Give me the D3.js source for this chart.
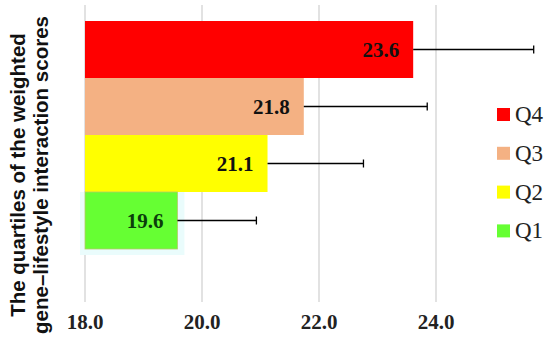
<!DOCTYPE html>
<html>
<head>
<meta charset="utf-8">
<script src="https://cdn.jsdelivr.net/npm/d3@7"></script>
<style>
  body { margin: 0; background: white; }
</style>
</head>
<body>
<div class="chart"></div>
<script>
let width = 550
let height = 337

// data
let groups = ['Q4', 'Q3', 'Q2', 'Q1']
let means = [23.6, 21.8, 21.1, 19.6]
let barEnds = [23.61, 21.74, 21.12, 19.58]
let errorTops = [25.67, 23.85, 22.76, 20.93]
let ticks = [18.0, 20.0, 22.0, 24.0]
let colors = ['#ff0000', '#f4b183', '#ffff00', '#66ff33']

let x = d3.scaleLinear().domain([18, 24]).range([85, 436])
let y = d3.scaleBand().domain(groups).range([21, 249]).padding(0)

let svg = d3.select('div.chart')
    .append('svg')
    .attr('width', width)
    .attr('height', height)

// vertical gridlines
svg.selectAll('line.grid')
    .data(ticks)
    .enter()
    .append('line')
    .attr('class', 'grid')
    .attr('x1', d => x(d))
    .attr('x2', d => x(d))
    .attr('y1', 5)
    .attr('y2', 302)
    .style('stroke', '#d9d9d9')
    .style('stroke-width', 1.5)

// tick labels
svg.selectAll('text.tick')
    .data(ticks)
    .enter()
    .append('text')
    .attr('class', 'tick')
    .attr('x', d => x(d))
    .attr('y', 329)
    .attr('text-anchor', 'middle')
    .style('font-family', 'Liberation Serif, serif')
    .style('font-weight', 'bold')
    .style('font-size', '21px')
    .style('fill', '#222')
    .text(d => d.toFixed(1))

// faint cyan halo behind Q1 bar
svg.append('rect')
    .attr('x', x(18) - 5)
    .attr('y', y('Q1'))
    .attr('width', x(barEnds[3]) - x(18) + 12)
    .attr('height', y.bandwidth() + 6)
    .style('fill', '#eafcfc')

// bars
svg.selectAll('rect.bar')
    .data(groups)
    .enter()
    .append('rect')
    .attr('class', 'bar')
    .attr('x', x(18))
    .attr('y', d => y(d))
    .attr('width', (d, i) => x(barEnds[i]) - x(18))
    .attr('height', y.bandwidth())
    .style('fill', (d, i) => colors[i])
    .style('stroke', (d, i) => i == 3 ? '#b5c96a' : 'none')
    .style('stroke-width', 0.8)

// error bars (upper side only)
let err = svg.selectAll('g.err')
    .data(groups)
    .enter()
    .append('g')
    .attr('class', 'err')
err.append('line')
    .attr('x1', (d, i) => x(barEnds[i]))
    .attr('x2', (d, i) => x(errorTops[i]))
    .attr('y1', d => y(d) + y.bandwidth() / 2)
    .attr('y2', d => y(d) + y.bandwidth() / 2)
    .style('stroke', 'black')
    .style('stroke-width', 1.3)
err.append('line')
    .attr('x1', (d, i) => x(errorTops[i]))
    .attr('x2', (d, i) => x(errorTops[i]))
    .attr('y1', d => y(d) + y.bandwidth() / 2 - 4)
    .attr('y2', d => y(d) + y.bandwidth() / 2 + 4)
    .style('stroke', 'black')
    .style('stroke-width', 1.3)

// value labels inside bars
svg.selectAll('text.val')
    .data(groups)
    .enter()
    .append('text')
    .attr('class', 'val')
    .attr('x', (d, i) => x(barEnds[i]) - 14)
    .attr('y', d => y(d) + y.bandwidth() / 2 + 7)
    .attr('text-anchor', 'end')
    .style('font-family', 'Liberation Serif, serif')
    .style('font-weight', 'bold')
    .style('font-size', '21px')
    .style('fill', (d, i) => i == 3 ? '#0b3d0b' : '#111')
    .text((d, i) => means[i].toFixed(1))

// legend
let legend = svg.selectAll('g.legend')
    .data(groups)
    .enter()
    .append('g')
    .attr('class', 'legend')
    .attr('transform', (d, i) => 'translate(497,' + (108 + i * 38.8) + ')')
legend.append('rect')
    .attr('width', 13)
    .attr('height', 13)
    .style('fill', (d, i) => colors[i])
legend.append('text')
    .attr('x', 18)
    .attr('y', 14)
    .style('font-family', 'Liberation Serif, serif')
    .style('font-size', '23px')
    .style('fill', '#222')
    .text(d => d)

// y axis title
let title = svg.append('text')
    .attr('transform', 'translate(0,175) rotate(-90)')
    .attr('text-anchor', 'middle')
    .style('font-family', 'Liberation Sans, Arial, sans-serif')
    .style('font-weight', 'bold')
    .style('font-size', '20.5px')
    .style('fill', '#111')
title.append('tspan')
    .attr('x', 0)
    .attr('y', 25)
    .text('The quartiles of the weighted')
title.append('tspan')
    .attr('x', 0)
    .attr('y', 48)
    .text('gene–lifestyle interaction scores')
</script>
</body>
</html>
